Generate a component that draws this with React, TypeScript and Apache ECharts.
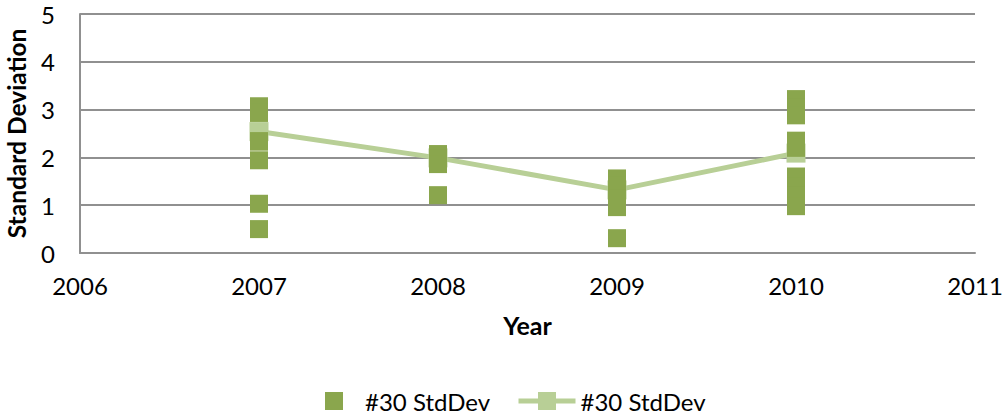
import React, { useEffect, useRef } from "react";
import * as echarts from "echarts";

const xTicks = [2006, 2007, 2008, 2009, 2010, 2011];
const yTicks = [0, 1, 2, 3, 4, 5];

const scatterYears = [
  2007, 2007, 2007, 2007, 2007, 2007, 2007,
  2008, 2008, 2008, 2008,
  2009, 2009, 2009, 2009, 2009, 2009,
  2010, 2010, 2010, 2010, 2010, 2010, 2010, 2010, 2010,
];
const scatterValues = [
  3.07, 2.93, 2.34, 2.33, 1.94, 1.03, 0.5,
  2.07, 1.97, 1.86, 1.21,
  1.56, 1.42, 1.33, 1.15, 0.96, 0.31,
  3.22, 3.05, 2.88, 2.35, 2.2, 1.6, 1.4, 1.2, 0.98,
];

const lineYears = [2007, 2008, 2009, 2010];
const lineValues = [2.54, 1.99, 1.32, 2.09];

const seriesLabel = "#30 StdDev";
const darkGreen = "#8aa64d";
const lightGreen = "#b8cf96";
const gridGray = "#909090";
const FONT = "Lato";

export default function App() {
  const ref = useRef<HTMLDivElement>(null);
  useEffect(() => {
    if (!ref.current) return;
    const chart = echarts.init(ref.current, null, { renderer: "svg" });
    chart.setOption({
      animation: false,
      backgroundColor: "#ffffff",
      textStyle: { fontFamily: FONT, color: "#000" },
      grid: { left: 80, right: 31, top: 14, bottom: 164, containLabel: false, outerBoundsMode: "none" },
      xAxis: {
        type: "value",
        min: xTicks[0],
        max: xTicks[xTicks.length - 1],
        interval: 1,
        name: "Year",
        nameLocation: "middle",
        nameGap: 59,
        nameTextStyle: { fontFamily: FONT, fontWeight: "bold", fontSize: 25, color: "#000" },
        axisLine: { show: true, lineStyle: { color: gridGray, width: 2 } },
        axisTick: { show: false },
        splitLine: { show: false },
        axisLabel: { fontFamily: FONT, fontSize: 24, color: "#000", margin: 20, formatter: (v: number) => String(v) },
      },
      yAxis: {
        type: "value",
        min: yTicks[0],
        max: yTicks[yTicks.length - 1],
        interval: 1,
        name: "Standard Deviation",
        nameLocation: "middle",
        nameGap: 51,
        nameTextStyle: { fontFamily: FONT, fontWeight: "bold", fontSize: 24.5, color: "#000" },
        axisLine: { show: true, lineStyle: { color: gridGray, width: 2 } },
        axisTick: { show: false },
        splitLine: { show: true, lineStyle: { color: gridGray, width: 2 } },
        axisLabel: { fontFamily: FONT, fontSize: 24, lineHeight: 22, color: "#000", margin: 25 },
      },
      legend: [
        {
          data: ["scatter"],
          left: 325,
          top: 389,
          padding: 0,
          itemWidth: 18,
          itemHeight: 18,
          formatter: () => seriesLabel,
          textStyle: { fontFamily: FONT, fontSize: 24, lineHeight: 22, color: "#000", padding: [0, 0, 0, 17] },
        },
        {
          data: ["line"],
          left: 516,
          top: 389,
          padding: 0,
          itemWidth: 57,
          itemHeight: 22.5,
          formatter: () => seriesLabel,
          lineStyle: { color: lightGreen, width: 5 },
          textStyle: { fontFamily: FONT, fontSize: 24, lineHeight: 22, color: "#000" },
        },
      ],
      series: [
        {
          name: "line",
          type: "line",
          data: lineYears.map((y, i) => [y, lineValues[i]]),
          symbol: "rect",
          symbolSize: 19,
          showAllSymbol: true,
          lineStyle: { color: lightGreen, width: 5 },
          itemStyle: { color: lightGreen },
          z: 2,
        },
        {
          name: "scatter",
          type: "scatter",
          data: scatterYears.map((y, i) => [y, scatterValues[i]]),
          symbol: "rect",
          symbolSize: 18,
          itemStyle: { color: darkGreen, opacity: 1 },
          z: 3,
        },
      ],
    });
    return () => chart.dispose();
  }, []);
  return (
    <div
      ref={ref}
      style={{ position: "absolute", left: 0, top: 0, width: 1006, height: 417 }}
    />
  );
}
